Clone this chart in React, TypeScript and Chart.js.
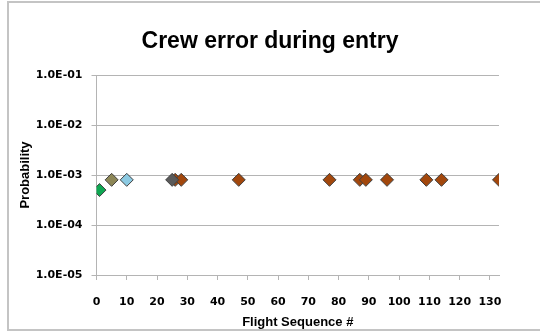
import React, { useEffect, useRef } from "react";
import { Chart, registerables } from "chart.js";

Chart.register(...registerables);

const titleText = "Crew error during entry";
const xTitle = "Flight Sequence #";
const yTitle = "Probability";

const yTickValues = [1e-5, 1e-4, 1e-3, 1e-2, 1e-1];
const yTickLabels = ["1.0E-05", "1.0E-04", "1.0E-03", "1.0E-02", "1.0E-01"];

const greenX = [1];
const greenY = [5e-4];
const oliveX = [5];
const oliveY = [8e-4];
const blueX = [10];
const blueY = [8e-4];
const grayX = [25];
const grayY = [8e-4];
const brownX = [26, 28, 47, 77, 87, 89, 96, 109, 114, 133];
const brownY = [8e-4, 8e-4, 8e-4, 8e-4, 8e-4, 8e-4, 8e-4, 8e-4, 8e-4, 8e-4];

const pts = (xs: number[], ys: number[]) => xs.map((x, i) => ({ x, y: ys[i] }));

const framePlugin = {
  id: "frame",
  beforeDraw(chart: any) {
    const ctx = chart.ctx;
    ctx.save();
    ctx.fillStyle = "#ffffff";
    ctx.fillRect(0, 0, chart.width, chart.height);
    ctx.strokeStyle = "#c4c4c4";
    ctx.lineWidth = 2;
    ctx.strokeRect(8, 2, 600, 328);
    ctx.restore();
  },
};

export default function App() {
  const ref = useRef<HTMLCanvasElement>(null);
  useEffect(() => {
    if (!ref.current) return;
    const mk = (label: string, data: any[], color: string) => ({
      label,
      data,
      pointStyle: "rectRot",
      pointRadius: 6.5,
      pointHoverRadius: 6.5,
      backgroundColor: color,
      borderColor: "#404040",
      borderWidth: 1,
      showLine: false,
    });
    const tickFont = { family: "DejaVu Sans", size: 11, weight: "bold" as const };
    const chart = new Chart(ref.current, {
      type: "scatter",
      data: {
        datasets: [
          mk("A", pts(grayX, grayY), "#5a5a5a"),
          mk("B", pts(brownX, brownY), "#a2470c"),
          mk("C", pts(oliveX, oliveY), "#8c8656"),
          mk("D", pts(blueX, blueY), "#8ccae2"),
          mk("E", pts(greenX, greenY), "#0fa652"),
        ],
      },
      options: {
        animation: false,
        responsive: false,
        devicePixelRatio: 1,
        layout: { padding: 0 },
        plugins: {
          legend: { display: false },
          tooltip: { enabled: false },
          title: {
            display: true,
            text: titleText,
            color: "#000",
            font: { family: "Liberation Sans", size: 23, weight: "bold" },
            padding: { top: 28, bottom: 19.4 },
          },
        },
        scales: {
          x: {
            type: "linear",
            min: 0,
            max: 133,
            afterFit: (s: any) => {
              s.height = 57;
            },
            ticks: {
              stepSize: 10,
              includeBounds: false,
              color: "#000",
              font: tickFont,
              padding: 16,
              maxRotation: 0,
              autoSkip: false,
            },
            grid: {
              drawOnChartArea: false,
              drawTicks: true,
              tickLength: 5,
              color: "#b4b4b4",
            },
            border: { display: true, color: "#b4b4b4" },
            title: {
              display: true,
              text: xTitle,
              color: "#000",
              font: { family: "Liberation Sans", size: 13, weight: "bold" },
              padding: { top: 0, bottom: 2 },
            },
          },
          y: {
            type: "logarithmic",
            min: 1e-5,
            max: 1e-1,
            afterFit: (s: any) => {
              s.width = 96.5;
            },
            afterBuildTicks: (s: any) => {
              s.ticks = yTickValues.map((v) => ({ value: v }));
            },
            ticks: {
              color: "#000",
              font: tickFont,
              padding: 9,
              autoSkip: false,
              callback: (v: any) => {
                const i = yTickValues.findIndex((t) => Math.abs(Math.log10(t) - Math.log10(v)) < 1e-6);
                return i >= 0 ? yTickLabels[i] : "";
              },
            },
            grid: {
              drawOnChartArea: true,
              drawTicks: true,
              tickLength: 5,
              color: "#b4b4b4",
            },
            border: { display: true, color: "#b4b4b4" },
            title: {
              display: true,
              text: yTitle,
              color: "#000",
              font: { family: "Liberation Sans", size: 13, weight: "bold" },
              padding: { top: 18, bottom: 0 },
            },
          },
          yRight: {
            type: "linear",
            position: "right",
            display: true,
            afterFit: (s: any) => {
              s.width = 41;
            },
            ticks: { display: false },
            grid: { display: false, drawTicks: false },
            border: { display: false },
          },
        },
      },
      plugins: [framePlugin],
    });
    return () => chart.destroy();
  }, []);
  return (
    <div style={{ position: "absolute", left: 0, top: 0, width: 540, height: 332 }}>
      <canvas ref={ref} width={540} height={332} style={{ display: "block", width: 540, height: 332 }} />
    </div>
  );
}
